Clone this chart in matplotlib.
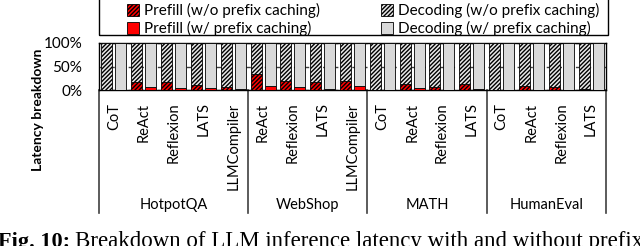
import matplotlib
matplotlib.use("Agg")
import matplotlib.pyplot as plt
from matplotlib.patches import Patch, Rectangle
import numpy as np

plt.rcParams['font.family'] = ['Lato', 'DejaVu Sans']
plt.rcParams['hatch.linewidth'] = 1.0

# Data (percent of latency spent in prefill)
groups = ["HotpotQA", "WebShop", "MATH", "HumanEval"]
group_sizes = [5, 4, 4, 4]
agents = ["CoT", "ReAct", "Reflexion", "LATS", "LLMCompiler",
          "ReAct", "Reflexion", "LATS", "LLMCompiler",
          "CoT", "ReAct", "Reflexion", "LATS",
          "CoT", "ReAct", "Reflexion", "LATS"]
prefill_wo = [1, 17, 16, 11, 7, 33, 20, 18, 20, 0.5, 12, 6, 13, 0.5, 9, 6, 3]
prefill_w = [0.5, 6, 4, 5, 2, 9, 6, 3, 8, 0.3, 4, 1, 2, 0.3, 1, 0.5, 0.3]

W, H = 640, 246
fig = plt.figure(figsize=(W / 100, H / 100), dpi=100)
ax = fig.add_axes([99 / W, 1 - 90 / H, 507 / W, 47 / H])

n = len(agents)
x = np.arange(n) + 0.5
bw = 0.37
off = 0.235
pw = np.array(prefill_wo)
pc = np.array(prefill_w)
HATCH = "////////"

ax.bar(x - off, pw, bw, color="red", edgecolor="black", hatch=HATCH, lw=0.6, zorder=3)
ax.bar(x - off, 100 - pw, bw, bottom=pw, color="#e8e8e8", edgecolor="black",
       hatch=HATCH, lw=0.6, zorder=3)
ax.bar(x + off, pc, bw, color="red", edgecolor="black", lw=0.6, zorder=3)
ax.bar(x + off, 100 - pc, bw, bottom=pc, color="#d9d9d9", edgecolor="black", lw=0.6, zorder=3)

ax.set_xlim(0, n)
ax.set_ylim(0, 100)
ax.set_yticks([0, 50, 100])
ax.set_yticklabels(["0%", "50%", "100%"], fontsize=11)
ax.yaxis.grid(True, color="#404040", lw=1, ls=(0, (4, 3)), zorder=0)
ax.set_xticks(x)
ax.set_xticklabels(agents, rotation=90, fontsize=10.5, va="top")
ax.tick_params(axis="x", length=0, pad=9)
ax.tick_params(axis="y", length=0, pad=12)
for s in ax.spines.values():
    s.set_linewidth(1)

# group separators and labels below the axis
drop = -(213 - 90) / 47
edges = np.concatenate([[0], np.cumsum(group_sizes)])
for e in edges:
    ax.plot([e / n, e / n], [0, drop], transform=ax.transAxes, color="#404040",
            lw=1.2, clip_on=False)
for g, a, b in zip(groups, edges[:-1], edges[1:]):
    ax.text((a + b) / 2 / n, -(205 - 90) / 47, g, transform=ax.transAxes,
            ha="center", va="center", fontsize=10.5)

fig.text(38 / W, 1 - 110 / H, "Latency breakdown", rotation=90, ha="center",
         va="center", fontsize=10, fontweight="bold")

# legend box spanning the plot width
fig.patches.append(Rectangle((99 / W, 1 - 35 / H), 509 / W, 37 / H,
                             transform=fig.transFigure, fill=False,
                             edgecolor="black", lw=1))
handles = [Patch(facecolor="red", edgecolor="black", hatch=HATCH, lw=0.6),
           Patch(facecolor="red", edgecolor="black", lw=0.6),
           Patch(facecolor="#e8e8e8", edgecolor="black", hatch=HATCH, lw=0.6),
           Patch(facecolor="#d9d9d9", edgecolor="black", lw=0.6)]
labels = ["Prefill (w/o prefix caching)", "Prefill (w/ prefix caching)",
          "Decoding (w/o prefix caching)", "Decoding (w/ prefix caching)"]
leg = fig.legend(handles, labels, ncol=2, loc="center left",
                 bbox_to_anchor=(127 / W, 1 - 19.5 / H), fontsize=11,
                 frameon=False, handlelength=0.8, handleheight=0.8,
                 handletextpad=0.3, labelspacing=0.2, columnspacing=4.0,
                 borderpad=0, borderaxespad=0)

fig.text(-2 / W, 1 - 247 / H, "Fig. 10:", fontsize=16, fontweight="bold",
         family="Liberation Serif", ha="left", va="baseline")
fig.text(75 / W, 1 - 247 / H,
         "Breakdown of LLM inference latency with and without prefix",
         fontsize=16.5, family="Liberation Serif", ha="left", va="baseline")

fig.savefig("out.png", dpi=100)
